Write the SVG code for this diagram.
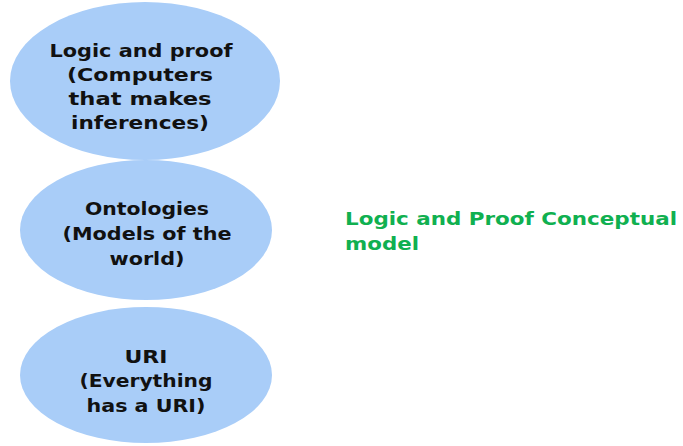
<svg xmlns="http://www.w3.org/2000/svg" width="683" height="446" viewBox="0 0 683 446">
<style>
.node ellipse{fill:#a9cdf8;stroke:none}
.t{font-family:"DejaVu Sans","Verdana",sans-serif;font-weight:bold;font-size:18px;fill:#111;text-anchor:middle}
.g{font-family:"DejaVu Sans","Verdana",sans-serif;font-weight:bold;font-size:18px;fill:#10b050}
</style>
<rect width="683" height="446" fill="#fff"/>
<g id="connectors"></g>
<g id="logic" class="node">
<ellipse cx="145" cy="81" rx="135" ry="79"/>
<text class="t" x="141" y="57" textLength="183" lengthAdjust="spacingAndGlyphs">Logic and proof</text>
<text class="t" x="140" y="81" textLength="146" lengthAdjust="spacingAndGlyphs">(Computers</text>
<text class="t" x="140" y="105" textLength="143" lengthAdjust="spacingAndGlyphs">that makes</text>
<text class="t" x="140" y="129" textLength="138" lengthAdjust="spacingAndGlyphs">inferences)</text>
</g>
<g id="ontologies" class="node">
<ellipse cx="146" cy="230" rx="126" ry="70"/>
<text class="t" x="147" y="215" textLength="124" lengthAdjust="spacingAndGlyphs">Ontologies</text>
<text class="t" x="147" y="240" textLength="169" lengthAdjust="spacingAndGlyphs">(Models of the</text>
<text class="t" x="147" y="265" textLength="75" lengthAdjust="spacingAndGlyphs">world)</text>
</g>
<g id="uri" class="node">
<ellipse cx="146" cy="375" rx="126" ry="68"/>
<text class="t" x="146" y="363" textLength="43" lengthAdjust="spacingAndGlyphs">URI</text>
<text class="t" x="146" y="387" textLength="133" lengthAdjust="spacingAndGlyphs">(Everything</text>
<text class="t" x="146" y="412" textLength="119" lengthAdjust="spacingAndGlyphs">has a URI)</text>
</g>
<g id="title">
<text class="g" x="345" y="225" textLength="332" lengthAdjust="spacingAndGlyphs">Logic and Proof Conceptual</text>
<text class="g" x="345" y="250" textLength="74" lengthAdjust="spacingAndGlyphs">model</text>
</g>
</svg>
